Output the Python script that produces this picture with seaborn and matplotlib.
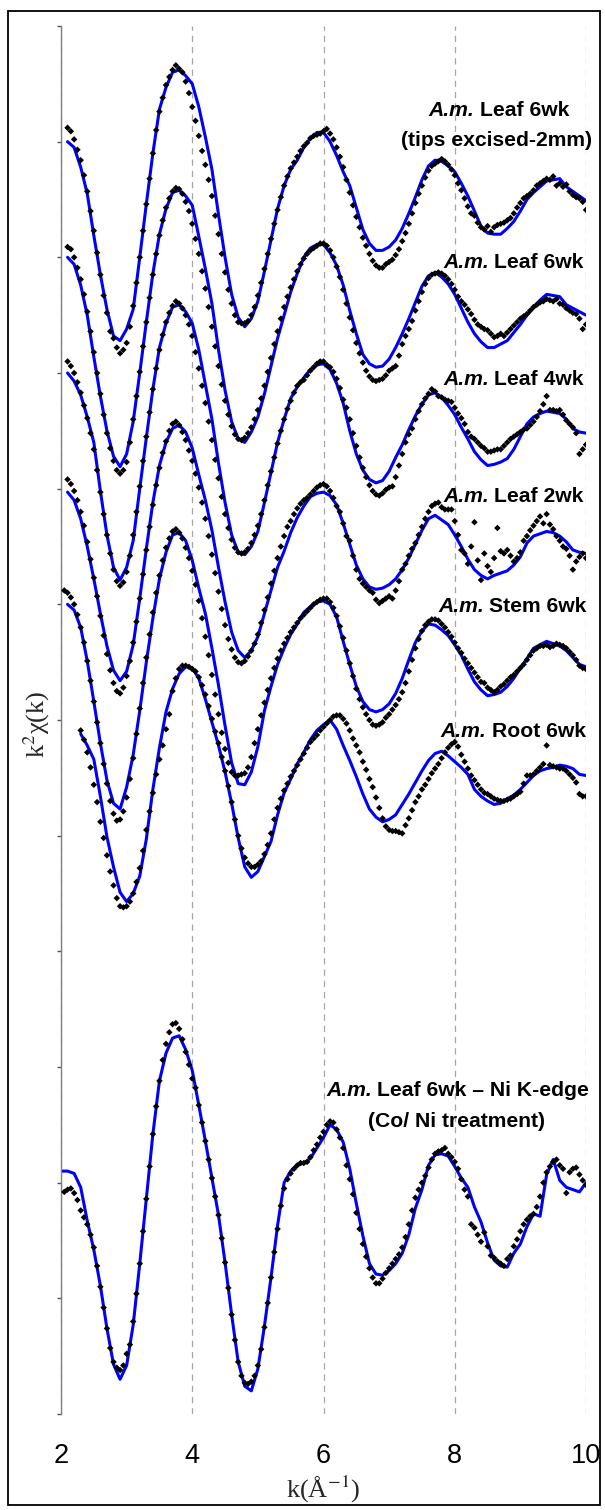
import numpy as np
import matplotlib
matplotlib.use("Agg")
import matplotlib.pyplot as plt
import seaborn as sns
from matplotlib.patches import Rectangle

nan = np.nan

# ---------------- data ----------------
# k grids (Angstrom^-1)
K_FIT = np.round(np.arange(2.0, 10.0001, 0.1), 2)     # 81 points
K_DATA = np.round(np.arange(2.05, 10.0001, 0.05), 2)  # 160 points

NAMES = ["Leaf 6wk tips excised", "Leaf 6wk", "Leaf 4wk", "Leaf 2wk",
         "Stem 6wk", "Root 6wk", "Leaf 6wk Ni K-edge"]
OFFSETS = [11, 10, 9, 8, 7, 6, 2]

# fitted k2chi(k) (blue lines), relative to each offset
FIT_TIPS = [nan,
    0.00, -0.05, -0.22, -0.45, -0.81, -1.15, -1.45, -1.68, -1.72, -1.62,
    -1.45, -1.00, -0.54, -0.10, 0.28, 0.47, 0.60, 0.62, 0.57, 0.50,
    0.30, 0.04, -0.24, -0.63, -1.00, -1.32, -1.52, -1.60, -1.53, -1.38,
    -1.12, -0.85, -0.58, -0.38, -0.24, -0.16, -0.05, 0.03, 0.08, 0.08,
    0.00, -0.12, -0.26, -0.38, -0.57, -0.76, -0.88, -0.94, -0.94, -0.91,
    -0.85, -0.75, -0.62, -0.48, -0.33, -0.21, -0.16, -0.17, -0.21, -0.26,
    -0.36, -0.47, -0.60, -0.73, -0.79, -0.80, -0.80, -0.75, -0.69, -0.60,
    -0.50, -0.44, -0.39, -0.34, -0.33, -0.32, -0.39, -0.43, -0.47, -0.51]
FIT_LEAF6 = [nan,
    0.00, -0.06, -0.24, -0.50, -0.86, -1.20, -1.50, -1.72, -1.81, -1.70,
    -1.42, -1.00, -0.56, -0.14, 0.20, 0.42, 0.56, 0.58, 0.53, 0.45,
    0.18, -0.10, -0.40, -0.80, -1.15, -1.42, -1.57, -1.60, -1.51, -1.38,
    -1.18, -0.94, -0.70, -0.50, -0.30, -0.14, 0.00, 0.08, 0.11, 0.11,
    0.04, -0.07, -0.24, -0.46, -0.66, -0.84, -0.92, -0.95, -0.94, -0.88,
    -0.78, -0.66, -0.53, -0.39, -0.25, -0.16, -0.13, -0.17, -0.23, -0.32,
    -0.44, -0.56, -0.66, -0.73, -0.78, -0.78, -0.75, -0.72, -0.65, -0.58,
    -0.50, -0.43, -0.37, -0.32, -0.33, -0.34, -0.41, -0.44, -0.47, -0.50]
FIT_LEAF4 = [nan,
    0.00, -0.07, -0.19, -0.38, -0.60, -1.02, -1.40, -1.68, -1.79, -1.68,
    -1.45, -1.00, -0.56, -0.14, 0.22, 0.43, 0.57, 0.59, 0.53, 0.43,
    0.20, -0.10, -0.40, -0.78, -1.12, -1.40, -1.55, -1.57, -1.50, -1.37,
    -1.12, -0.86, -0.60, -0.40, -0.22, -0.12, -0.04, 0.03, 0.07, 0.08,
    0.03, -0.09, -0.26, -0.50, -0.70, -0.84, -0.92, -0.95, -0.93, -0.85,
    -0.73, -0.62, -0.49, -0.37, -0.27, -0.19, -0.17, -0.21, -0.28, -0.36,
    -0.47, -0.57, -0.68, -0.75, -0.80, -0.79, -0.77, -0.74, -0.66, -0.55,
    -0.44, -0.38, -0.35, -0.33, -0.34, -0.35, -0.40, -0.48, -0.51, -0.52]
FIT_LEAF2 = [nan,
    -0.03, -0.10, -0.26, -0.50, -0.78, -1.08, -1.36, -1.57, -1.66, -1.58,
    -1.35, -0.95, -0.52, -0.12, 0.20, 0.40, 0.52, 0.55, 0.49, 0.35,
    0.12, -0.10, -0.36, -0.68, -0.98, -1.24, -1.40, -1.46, -1.40, -1.28,
    -1.08, -0.88, -0.68, -0.54, -0.38, -0.25, -0.15, -0.07, -0.04, -0.03,
    -0.06, -0.14, -0.30, -0.48, -0.66, -0.78, -0.85, -0.87, -0.86, -0.83,
    -0.78, -0.70, -0.60, -0.48, -0.36, -0.26, -0.23, -0.27, -0.31, -0.40,
    -0.50, -0.61, -0.70, -0.75, -0.78, -0.75, -0.73, -0.71, -0.66, -0.59,
    -0.47, -0.41, -0.39, -0.37, -0.38, -0.41, -0.46, -0.53, -0.55, -0.56]
FIT_STEM6 = [nan,
    0.00, -0.05, -0.20, -0.49, -0.84, -1.20, -1.52, -1.72, -1.77, -1.58,
    -1.30, -0.92, -0.50, -0.12, 0.22, 0.45, 0.60, 0.62, 0.55, 0.38,
    0.14, -0.08, -0.38, -0.70, -1.05, -1.37, -1.55, -1.56, -1.45, -1.23,
    -0.92, -0.71, -0.52, -0.38, -0.26, -0.17, -0.07, -0.02, 0.02, 0.03,
    0.00, -0.11, -0.32, -0.52, -0.71, -0.84, -0.91, -0.93, -0.91, -0.86,
    -0.77, -0.64, -0.48, -0.33, -0.23, -0.17, -0.18, -0.22, -0.27, -0.35,
    -0.44, -0.56, -0.67, -0.74, -0.79, -0.78, -0.76, -0.71, -0.64, -0.55,
    -0.47, -0.38, -0.35, -0.32, -0.34, -0.36, -0.40, -0.46, -0.52, -0.54]
FIT_ROOT6 = [nan,
    nan, nan, -0.12, -0.22, -0.34, -0.66, -1.01, -1.27, -1.49, -1.57,
    -1.50, -1.35, -1.03, -0.60, -0.24, 0.07, 0.27, 0.40, 0.46, 0.45,
    0.36, 0.18, -0.02, -0.22, -0.45, -0.72, -1.02, -1.27, -1.36, -1.31,
    -1.18, -1.05, -0.82, -0.63, -0.51, -0.38, -0.28, -0.17, -0.09, -0.04,
    0.00, -0.08, -0.22, -0.35, -0.49, -0.64, -0.77, -0.84, -0.88, -0.86,
    -0.82, -0.73, -0.64, -0.54, -0.44, -0.35, -0.29, -0.27, -0.31, -0.36,
    -0.41, -0.47, -0.60, -0.66, -0.70, -0.73, -0.72, -0.68, -0.65, -0.60,
    -0.54, -0.48, -0.44, -0.42, -0.41, -0.39, -0.40, -0.42, -0.47, -0.48]
FIT_NI = [0.10,
    0.10, 0.08, -0.04, -0.33, -0.58, -0.89, -1.26, -1.57, -1.70, -1.58,
    -1.23, -0.70, -0.14, 0.42, 0.88, 1.12, 1.25, 1.27, 1.15, 0.97,
    0.67, 0.36, 0.04, -0.28, -0.69, -1.14, -1.55, -1.76, -1.80, -1.61,
    -1.24, -0.82, -0.37, 0.00, 0.10, 0.15, 0.17, 0.21, 0.30, 0.39,
    0.50, 0.46, 0.35, 0.12, -0.18, -0.46, -0.70, -0.79, -0.80, -0.76,
    -0.70, -0.61, -0.45, -0.22, -0.06, 0.15, 0.24, 0.25, 0.23, 0.14,
    0.04, -0.04, -0.21, -0.34, -0.52, -0.67, -0.72, -0.73, -0.61, -0.53,
    -0.38, -0.27, -0.29, 0.07, 0.20, 0.02, -0.04, -0.06, -0.08, 0.00]

# experimental k2chi(k) (black points), relative to each offset
DATA_TIPS = [
    nan, 0.12, 0.09, 0.02, -0.07, -0.16, -0.29, -0.43, -0.60, -0.77,
    -0.96, -1.15, -1.33, -1.48, -1.64, -1.70, -1.78, -1.83, -1.80, -1.74,
    -1.60, -1.42, -1.22, -1.00, -0.77, -0.54, -0.32, -0.10, 0.10, 0.26,
    0.38, 0.49, 0.56, 0.62, 0.66, 0.63, 0.60, 0.52, 0.42, 0.30,
    0.18, 0.05, -0.08, -0.20, -0.33, -0.47, -0.64, -0.80, -0.97, -1.13,
    -1.28, -1.40, -1.50, -1.56, -1.57, -1.57, -1.55, -1.50, -1.43, -1.33,
    -1.22, -1.10, -0.97, -0.84, -0.71, -0.59, -0.48, -0.38, -0.30, -0.23,
    -0.18, -0.13, -0.08, -0.04, -0.01, 0.03, 0.05, 0.06, 0.07, 0.09,
    0.11, 0.07, 0.02, -0.05, -0.13, -0.22, -0.33, -0.44, -0.55, -0.65,
    -0.74, -0.83, -0.90, -0.97, -1.03, -1.07, -1.09, -1.09, -1.06, -1.04,
    -1.02, -0.98, -0.93, -0.86, -0.79, -0.71, -0.62, -0.53, -0.45, -0.38,
    -0.31, -0.25, -0.21, -0.19, -0.17, -0.15, -0.17, -0.20, -0.24, -0.29,
    -0.36, -0.42, -0.49, -0.56, -0.62, -0.64, -0.70, -0.74, -0.76, -0.73,
    -0.78, -0.74, -0.72, -0.71, -0.70, -0.68, -0.66, -0.62, -0.57, -0.53,
    -0.49, -0.47, -0.45, -0.42, -0.38, -0.36, -0.34, -0.32, -0.33, -0.30,
    -0.38, -0.36, -0.39, -0.37, -0.43, -0.46, -0.48, -0.49, -0.52, -0.59]
DATA_LEAF6 = [
    nan, 0.09, 0.07, 0.00, -0.09, -0.19, -0.32, -0.47, -0.64, -0.82,
    -1.00, -1.18, -1.36, -1.52, -1.65, -1.76, -1.84, -1.87, -1.84, -1.77,
    -1.60, -1.40, -1.20, -0.99, -0.77, -0.56, -0.35, -0.15, 0.03, 0.19,
    0.32, 0.43, 0.51, 0.57, 0.60, 0.59, 0.55, 0.48, 0.40, 0.29,
    0.16, 0.03, -0.12, -0.27, -0.43, -0.60, -0.77, -0.94, -1.10, -1.24,
    -1.36, -1.46, -1.53, -1.57, -1.58, -1.56, -1.52, -1.47, -1.40, -1.32,
    -1.22, -1.11, -0.99, -0.87, -0.75, -0.64, -0.53, -0.43, -0.34, -0.26,
    -0.19, -0.12, -0.06, -0.01, 0.03, 0.06, 0.08, 0.10, 0.12, 0.12,
    0.10, 0.06, 0.00, -0.08, -0.17, -0.28, -0.40, -0.52, -0.63, -0.74,
    -0.83, -0.91, -0.98, -1.03, -1.06, -1.07, -1.06, -1.05, -1.02, -0.98,
    -0.96, -0.94, -0.85, -0.75, -0.68, -0.62, -0.55, -0.46, -0.38, -0.30,
    -0.23, -0.18, -0.15, -0.14, -0.13, -0.14, -0.16, -0.19, -0.23, -0.28,
    -0.34, -0.38, -0.41, -0.45, -0.49, -0.54, -0.58, -0.60, -0.62, -0.63,
    -0.66, -0.69, -0.68, -0.66, -0.68, -0.65, -0.62, -0.59, -0.56, -0.53,
    -0.51, -0.49, -0.46, -0.43, -0.41, -0.39, -0.38, -0.36, -0.37, -0.38,
    -0.36, -0.40, -0.41, -0.44, -0.46, -0.48, -0.49, -0.53, -0.62, -0.58]
DATA_LEAF4 = [
    nan, 0.10, 0.06, 0.00, -0.08, -0.17, -0.28, -0.39, -0.52, -0.66,
    -0.84, -1.03, -1.22, -1.40, -1.56, -1.70, -1.80, -1.84, -1.81, -1.72,
    -1.58, -1.40, -1.20, -0.98, -0.76, -0.55, -0.34, -0.14, 0.04, 0.20,
    0.33, 0.44, 0.52, 0.58, 0.62, 0.60, 0.56, 0.50, 0.42, 0.32,
    0.18, 0.04, -0.11, -0.26, -0.42, -0.58, -0.75, -0.91, -1.07, -1.22,
    -1.34, -1.44, -1.51, -1.55, -1.56, -1.55, -1.52, -1.47, -1.40, -1.32,
    -1.22, -1.10, -0.97, -0.85, -0.73, -0.61, -0.50, -0.40, -0.31, -0.24,
    -0.17, -0.11, -0.08, -0.06, -0.02, 0.02, 0.05, 0.08, 0.10, 0.10,
    0.07, 0.05, 0.01, -0.05, -0.13, -0.23, -0.30, -0.40, -0.52, -0.63,
    -0.73, -0.82, -0.90, -0.97, -1.02, -1.05, -1.06, -1.04, -1.01, -0.99,
    -0.98, -0.90, -0.80, -0.70, -0.60, -0.53, -0.48, -0.40, -0.33, -0.27,
    -0.22, -0.18, -0.14, -0.16, -0.20, -0.21, -0.23, -0.24, -0.25, -0.30,
    -0.35, -0.39, -0.44, -0.51, -0.55, -0.57, -0.60, -0.63, -0.65, -0.68,
    -0.68, -0.67, -0.66, -0.66, -0.63, -0.60, -0.57, -0.55, -0.53, -0.51,
    -0.49, -0.48, -0.45, -0.42, -0.38, -0.33, -0.27, -0.20, -0.32, -0.32,
    -0.33, -0.32, -0.36, -0.41, -0.44, -0.47, -0.52, -0.70, -0.66, -0.62]
DATA_LEAF2 = [
    nan, 0.08, 0.04, -0.02, -0.10, -0.20, -0.32, -0.46, -0.61, -0.77,
    -0.93, -1.10, -1.27, -1.43, -1.57, -1.68, -1.75, -1.77, -1.72, -1.62,
    -1.49, -1.33, -1.15, -0.95, -0.74, -0.53, -0.33, -0.14, 0.03, 0.18,
    0.31, 0.41, 0.50, 0.56, 0.58, 0.55, 0.49, 0.42, 0.33, 0.24,
    0.13, 0.01, -0.12, -0.26, -0.41, -0.57, -0.73, -0.89, -1.04, -1.18,
    -1.30, -1.39, -1.46, -1.50, -1.51, -1.49, -1.45, -1.40, -1.34, -1.26,
    -1.16, -1.05, -0.94, -0.82, -0.71, -0.60, -0.50, -0.41, -0.33, -0.28,
    -0.22, -0.17, -0.13, -0.10, -0.08, -0.05, -0.02, 0.01, 0.03, 0.04,
    0.02, -0.02, -0.08, -0.15, -0.20, -0.30, -0.41, -0.45, -0.58, -0.70,
    -0.78, -0.82, -0.85, -0.88, -0.90, -0.96, -0.99, -0.97, -0.95, -0.93,
    -0.95, -0.88, -0.80, -0.70, -0.65, -0.58, -0.52, -0.47, -0.40, -0.33,
    -0.26, -0.20, -0.15, -0.13, -0.12, -0.16, -0.18, -0.18, -0.18, -0.28,
    -0.40, -0.53, -0.56, -0.65, -0.50, -0.29, -0.62, -0.79, -0.56, -0.67,
    -0.72, -0.60, -0.34, -0.54, -0.56, -0.53, -0.58, -0.63, -0.60, -0.55,
    -0.45, -0.41, -0.36, -0.32, -0.28, -0.24, -0.30, -0.22, -0.31, -0.35,
    -0.41, -0.45, -0.50, -0.52, -0.58, -0.70, -0.63, -0.59, -0.56, -0.60]
DATA_STEM6 = [
    0.12, 0.10, 0.06, 0.00, -0.09, -0.20, -0.33, -0.49, -0.66, -0.84,
    -1.02, -1.20, -1.38, -1.55, -1.70, -1.81, -1.87, -1.86, -1.79, -1.67,
    -1.51, -1.33, -1.12, -0.90, -0.68, -0.46, -0.26, -0.07, 0.10, 0.25,
    0.38, 0.49, 0.57, 0.63, 0.65, 0.62, 0.57, 0.49, 0.40, 0.29,
    0.17, 0.03, -0.12, -0.28, -0.44, -0.61, -0.78, -0.95, -1.11, -1.25,
    -1.37, -1.45, -1.48, -1.48, -1.47, -1.46, -1.41, -1.32, -1.20, -1.08,
    -0.96, -0.85, -0.74, -0.64, -0.55, -0.47, -0.40, -0.34, -0.29, -0.24,
    -0.20, -0.16, -0.12, -0.09, -0.06, -0.03, 0.00, 0.02, 0.04, 0.05,
    0.05, 0.02, -0.03, -0.10, -0.19, -0.29, -0.40, -0.51, -0.62, -0.73,
    -0.82, -0.89, -0.95, -1.00, -1.04, -1.05, -1.04, -1.02, -0.98, -0.95,
    -0.91, -0.87, -0.82, -0.76, -0.68, -0.58, -0.48, -0.38, -0.30, -0.23,
    -0.18, -0.15, -0.13, -0.13, -0.14, -0.17, -0.20, -0.24, -0.28, -0.33,
    -0.38, -0.42, -0.47, -0.51, -0.55, -0.59, -0.63, -0.67, -0.68, -0.72,
    -0.74, -0.76, -0.74, -0.71, -0.69, -0.66, -0.63, -0.61, -0.58, -0.55,
    -0.52, -0.48, -0.44, -0.40, -0.38, -0.36, -0.36, -0.35, -0.37, -0.36,
    -0.34, -0.35, -0.36, -0.38, -0.41, -0.44, -0.48, -0.53, -0.55, -0.56]
DATA_ROOT6 = [
    nan, nan, nan, nan, nan, -0.09, -0.17, -0.28, -0.41, -0.56,
    -0.71, -0.88, -1.02, -1.17, -1.31, -1.43, -1.54, -1.61, -1.62, -1.61,
    -1.57, -1.50, -1.40, -1.28, -1.13, -0.95, -0.79, -0.63, -0.47, -0.34,
    -0.22, -0.08, 0.05, 0.25, 0.36, 0.44, 0.47, 0.47, 0.46, 0.44,
    0.42, 0.37, 0.30, 0.22, 0.12, 0.01, -0.10, -0.20, -0.32, -0.44,
    -0.57, -0.71, -0.86, -1.00, -1.11, -1.19, -1.24, -1.27, -1.27, -1.25,
    -1.22, -1.16, -1.08, -0.98, -0.86, -0.76, -0.68, -0.61, -0.55, -0.49,
    -0.44, -0.39, -0.34, -0.29, -0.24, -0.19, -0.16, -0.13, -0.09, -0.06,
    -0.03, 0.00, 0.03, 0.04, 0.04, 0.01, -0.03, -0.09, -0.16, -0.22,
    -0.28, -0.36, -0.43, -0.51, -0.58, -0.67, -0.76, -0.85, -0.92, -0.95,
    -0.96, -0.96, -0.97, -0.98, -0.91, -0.85, -0.78, -0.71, -0.66, -0.60,
    -0.56, -0.51, -0.46, -0.42, -0.38, -0.33, -0.28, -0.24, -0.21, -0.19,
    -0.23, -0.30, -0.36, -0.42, -0.48, -0.52, -0.56, -0.60, -0.63, -0.64,
    -0.66, -0.68, -0.69, -0.70, -0.70, -0.69, -0.68, -0.66, -0.64, -0.62,
    -0.55, -0.48, -0.48, -0.47, -0.44, -0.41, -0.38, -0.22, -0.39, -0.40,
    -0.41, -0.42, -0.42, -0.44, -0.47, -0.50, -0.54, -0.64, -0.66, -0.66]
DATA_NI = [
    -0.08, -0.06, -0.05, -0.09, -0.15, -0.24, -0.30, -0.36, -0.45, -0.56,
    -0.72, -0.90, -1.08, -1.26, -1.43, -1.55, -1.60, -1.62, -1.58, -1.48,
    -1.40, -1.20, -0.96, -0.70, -0.42, -0.14, 0.14, 0.42, 0.66, 0.88,
    1.06, 1.20, 1.30, 1.37, 1.38, 1.33, 1.24, 1.13, 1.02, 0.90,
    0.82, 0.67, 0.52, 0.36, 0.20, 0.04, -0.12, -0.28, -0.48, -0.69,
    -0.91, -1.14, -1.36, -1.55, -1.67, -1.73, -1.74, -1.72, -1.67, -1.58,
    -1.44, -1.25, -1.04, -0.82, -0.60, -0.40, -0.20, -0.05, 0.03, 0.08,
    0.12, 0.15, 0.17, 0.17, 0.18, 0.22, 0.28, 0.33, 0.39, 0.44,
    0.50, 0.53, 0.52, 0.46, 0.39, 0.30, 0.15, 0.03, -0.10, -0.26,
    -0.40, -0.53, -0.64, -0.74, -0.82, -0.87, -0.87, -0.83, -0.78, -0.74,
    -0.70, -0.66, -0.62, -0.56, -0.47, -0.36, -0.24, -0.13, -0.06, 0.00,
    0.06, 0.13, 0.20, 0.25, 0.27, 0.28, 0.30, 0.25, 0.22, 0.18,
    0.12, 0.03, -0.06, -0.12, -0.36, -0.39, -0.45, -0.51, -0.43, -0.55,
    -0.63, -0.65, -0.68, -0.70, -0.72, -0.66, -0.63, -0.55, -0.49, -0.42,
    -0.36, -0.32, -0.29, -0.27, -0.21, -0.12, 0.00, 0.09, 0.14, 0.18,
    0.20, 0.15, 0.12, -0.09, 0.09, 0.12, 0.13, 0.07, 0.02, -0.02]

FITS = [FIT_TIPS, FIT_LEAF6, FIT_LEAF4, FIT_LEAF2, FIT_STEM6, FIT_ROOT6, FIT_NI]
DATAS = [DATA_TIPS, DATA_LEAF6, DATA_LEAF4, DATA_LEAF2, DATA_STEM6, DATA_ROOT6, DATA_NI]

X_TICKS = [2, 4, 6, 8, 10]

# ---------------- style ----------------
sns.set_theme(style="white")
plt.rcParams["font.family"] = ["Liberation Sans", "DejaVu Sans"]
plt.rcParams["mathtext.fontset"] = "stix"

W, H = 605, 1510
fig = plt.figure(figsize=(W / 100, H / 100), dpi=100)
fig.patch.set_facecolor("white")
# axes spans pixel x 61..586, y 26..1414
ax = fig.add_axes([61 / W, (H - 1414) / H, 525 / W, 1388 / H])
ax.set_facecolor("white")

for off, fit, dat in zip(OFFSETS, FITS, DATAS):
    fit = np.asarray(fit, dtype=float)
    dat = np.asarray(dat, dtype=float)
    assert len(fit) == len(K_FIT) and len(dat) == len(K_DATA)
    m = ~np.isnan(fit)
    sns.lineplot(x=K_FIT[m], y=off + fit[m], color="#0000ff", lw=2.2,
                 estimator=None, sort=False, ax=ax, zorder=2, legend=False)
    md = ~np.isnan(dat)
    sns.scatterplot(x=K_DATA[md], y=off + dat[md], marker="D", s=11,
                    color="black", edgecolor="none", linewidth=0,
                    ax=ax, zorder=3, legend=False)

ax.set_xlim(2, 10)
ax.set_ylim(0, 12)
ax.set_xticks(X_TICKS)
ax.set_xticklabels([str(v) for v in X_TICKS])
ax.set_yticks(range(13))
ax.set_yticklabels([])
ax.set_xlabel("")
ax.set_ylabel("")
ax.grid(axis="x", color="#a6a6a6", lw=0.9, ls=(0, (5, 4)))
ax.grid(axis="y", visible=False)
for s in ["top", "right", "bottom"]:
    ax.spines[s].set_visible(False)
ax.spines["left"].set_color("#7f7f7f")
ax.spines["left"].set_linewidth(1.0)
ax.tick_params(axis="x", length=0, pad=21, labelsize=19.5, colors="black")
ax.tick_params(axis="y", which="both", left=True, length=3.2, width=1.0,
               color="#555555", direction="out")


def px2data(xp, yp):
    return 2 + (xp - 61) / 65.625, (1414 - yp) / (1388 / 12)


FS = 15.2


def label(xp, yp, rest, ha):
    x, y = px2data(xp, yp)
    t = ax.text(x, y, rest, ha=ha, va="center", fontsize=FS,
                fontweight="bold", color="black", zorder=5)
    ax.annotate("A.m.", xy=(0, 0), xycoords=t, xytext=(-3.5, 0),
                textcoords="offset points", ha="right", va="bottom",
                fontsize=FS, fontweight="bold", fontstyle="italic",
                color="black", zorder=5)
    return t


label(479.5, 110, "Leaf 6wk", "left")
x2, y2 = px2data(496.7, 140)
ax.text(x2, y2, "(tips excised-2mm)", ha="center", va="center", fontsize=FS,
        fontweight="bold", color="black", zorder=5)
label(583, 262, "Leaf 6wk", "right")
label(583.5, 379.5, "Leaf 4wk", "right")
label(583.5, 496, "Leaf 2wk", "right")
label(586, 606.5, "Stem 6wk", "right")
label(585.5, 731.5, "Root 6wk", "right")
label(377, 1090.5, "Leaf 6wk \u2013 Ni K-edge", "left")
x3, y3 = px2data(456, 1121.5)
ax.text(x3, y3, "(Co/ Ni treatment)", ha="center", va="center", fontsize=FS,
        fontweight="bold", color="black", zorder=5)

# axis titles (serif)
fig.text(323 / W, 1 - 1489 / H, "k(\u00c5$^{-1}$)", ha="center", va="center",
         fontsize=19, family="Liberation Serif")
fig.text(37 / W, 1 - 724 / H, "k$^{2}$\u03c7(k)", ha="center", va="center",
         rotation=90, fontsize=19, family="Liberation Serif")

# figure frame
fig.patches.append(Rectangle((8 / W, 1 - 1505 / H), (600 - 8) / W,
                             (1505 - 11) / H, transform=fig.transFigure,
                             fill=False, edgecolor="black", lw=1.3))

fig.savefig("out.png", dpi=100, facecolor="white")
